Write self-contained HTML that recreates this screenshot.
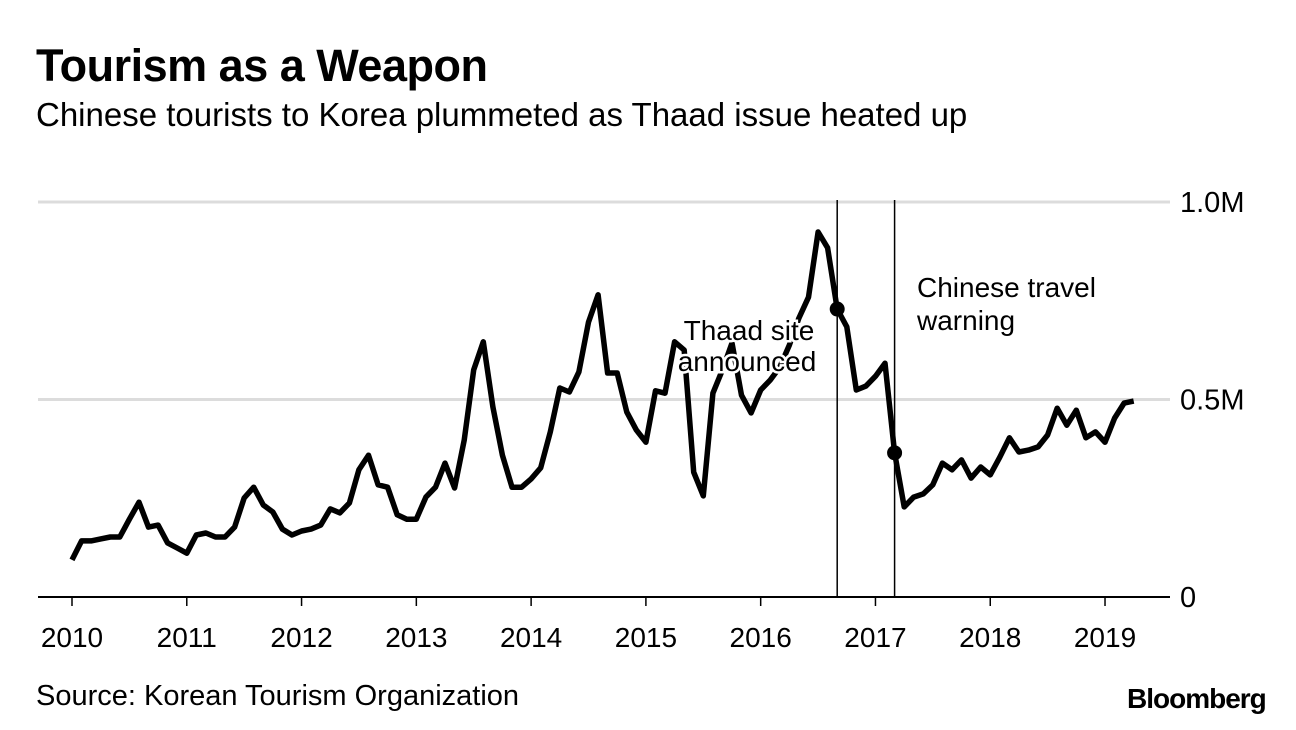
<!DOCTYPE html>
<html><head><meta charset="utf-8"><style>
body{margin:0;width:1296px;height:730px;background:#fff;font-family:"Liberation Sans",Arial,sans-serif;overflow:hidden;position:relative}
.t{position:absolute;color:#000;white-space:nowrap}
</style></head><body>
<div class="t" style="left:36px;top:40px;font-size:45px;font-weight:bold;letter-spacing:-0.5px">Tourism as a Weapon</div>
<div class="t" style="left:36px;top:96px;font-size:33px">Chinese tourists to Korea plummeted as Thaad issue heated up</div>
<div class="t" style="left:36px;top:680px;font-size:29px">Source: Korean Tourism Organization</div>
<div class="t" style="left:1127px;top:683px;font-size:28px;font-weight:bold;letter-spacing:-1px">Bloomberg</div>
<svg id="chart" width="1296" height="730" style="position:absolute;left:0;top:0"></svg>
<script>
const values=[94,142,142,147,152,152,197,240,177,182,137,124,111,157,162,152,152,177,251,278,233,215,172,157,167,172,182,223,213,238,322,359,284,278,208,197,197,253,278,339,276,397,575,646,481,359,278,278,299,327,418,529,519,570,696,765,567,567,468,423,392,522,516,646,625,316,256,516,575,643,511,466,524,549,582,638,706,759,924,884,729,684,524,534,559,592,365,228,253,261,284,339,322,347,301,329,309,354,403,367,372,380,410,478,435,473,403,418,392,453,491,496];
const yTicks=[0,500,1000];
const yTickLabels=["0","0.5M","1.0M"];
const xYears=[2010,2011,2012,2013,2014,2015,2016,2017,2018,2019];
const events=[80,86];
const eventLabels=[["Thaad site","announced"],["Chinese travel","warning"]];
const NS="http://www.w3.org/2000/svg";
const svg=document.getElementById('chart');
const x=m=>72+m*9.565;
const y=v=>597-v*0.395;
function mk(t,a){const e=document.createElementNS(NS,t);for(const k in a)e.setAttribute(k,a[k]);svg.appendChild(e);return e;}
yTicks.forEach((v,i)=>{
 if(v>0){const g=mk('line',{x1:38,x2:1170,y1:y(v),y2:y(v),stroke:'#dcdcdc','stroke-width':3});
 
 }
 const t=mk('text',{x:1180,y:y(v)+10,'font-size':29,'font-family':'Liberation Sans, sans-serif'});
 t.textContent=yTickLabels[i];
 
 
});
const base=mk('line',{x1:38,x2:1170,y1:597,y2:597,stroke:'#000','stroke-width':2});


xYears.forEach((yr,i)=>{
 const xx=x(i*12);
 const tk=mk('line',{x1:xx,x2:xx,y1:597,y2:606,stroke:'#000','stroke-width':1.5});
 
 
 const t=mk('text',{x:xx,y:647,'font-size':28,'text-anchor':'middle','font-family':'Liberation Sans, sans-serif'});
 t.textContent=yr;
 
 
});
events.forEach((m,i)=>{
 const l=mk('line',{x1:x(m),x2:x(m),y1:200,y2:597,stroke:'#000','stroke-width':1.5});
 
 
});
const d=values.map((v,i)=>(i?'L':'M')+x(i).toFixed(1)+','+y(v).toFixed(1)).join('');
const p=mk('path',{d:d,fill:'none',stroke:'#000','stroke-width':5.5,'stroke-linejoin':'round'});


events.forEach(m=>{
 const c=mk('circle',{cx:x(m),cy:y(values[m]),r:7.5,fill:'#000'});
 
 
});
const a1=[[749,340],[747,371]];
eventLabels[0].forEach((s,i)=>{
 const t=mk('text',{x:a1[i][0],y:a1[i][1],'font-size':28,'text-anchor':'middle','font-family':'Liberation Sans, sans-serif',stroke:'#fff','stroke-width':5,'paint-order':'stroke'});
 t.textContent=s;
 
 
});
eventLabels[1].forEach((s,i)=>{
 const t=mk('text',{x:917,y:297+i*33,'font-size':28,'font-family':'Liberation Sans, sans-serif'});
 t.textContent=s;
 
 
});
</script>
</body></html>
